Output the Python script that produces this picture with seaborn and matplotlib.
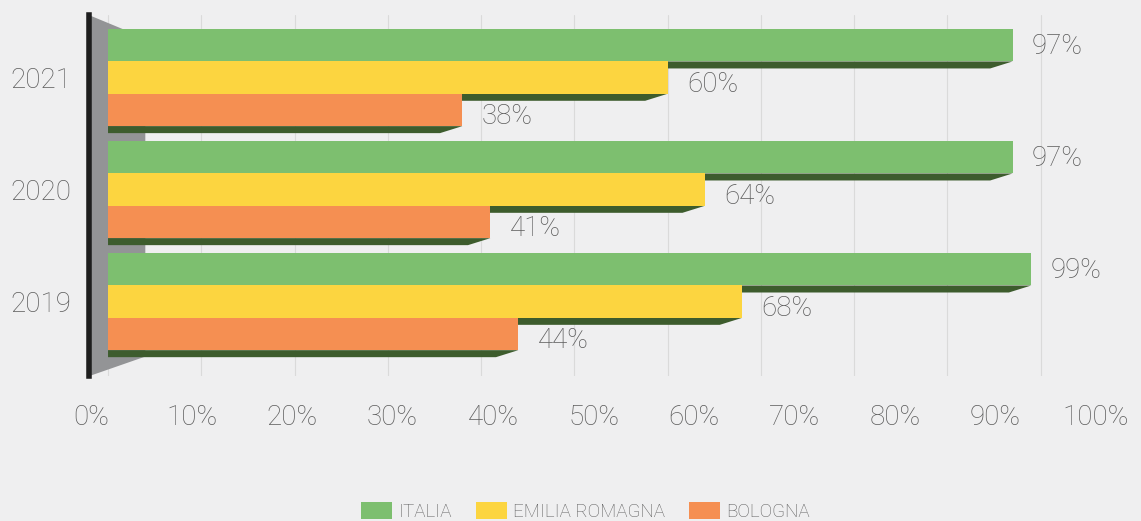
import pandas as pd
import seaborn as sns
from matplotlib import pyplot as plt
from matplotlib.patches import Polygon

# data
anni = ["2021", "2020", "2019"]
italia = [97, 97, 99]
emilia_romagna = [60, 64, 68]
bologna = [38, 41, 44]
aree = ["ITALIA", "EMILIA ROMAGNA", "BOLOGNA"]
colori = ["#7dbf6f", "#fcd540", "#f58f52"]
ticks = [0, 10, 20, 30, 40, 50, 60, 70, 80, 90, 100]

df = pd.DataFrame({
    "anno": anni * 3,
    "valore": italia + emilia_romagna + bologna,
    "area": [aree[0]] * 3 + [aree[1]] * 3 + [aree[2]] * 3,
})

sns.set_theme(style="white")
plt.rcParams["font.family"] = ["Roboto", "DejaVu Sans"]
testo = "#5c5c5c"
sfondo = "#efeff0"
peso = "light"

fig = plt.figure(figsize=(11.41, 5.21), dpi=100, facecolor=sfondo)
ax = fig.add_axes([0.078, 0.278, 0.883, 0.693])
ax.set_facecolor(sfondo)

sns.barplot(data=df, y="anno", x="valore", hue="area", orient="h",
            order=anni, hue_order=aree, palette=colori, saturation=1,
            width=0.866, gap=0, linewidth=0, ax=ax, zorder=3)

# dark bottom face under every bar (3d look)
d = 0.0625
s = 2.4
for cont in ax.containers:
    for p in cont:
        y0 = p.get_y() + p.get_height()
        w = p.get_width()
        ax.add_patch(Polygon([(0, y0), (w, y0), (w - s, y0 + d), (0, y0 + d)],
                             closed=True, facecolor="#3d5c2d", edgecolor="none", zorder=2))

# value labels
for i, cont in enumerate(ax.containers):
    txts = ax.bar_label(cont, labels=[f"{int(v)}%" for v in cont.datavalues],
                        padding=14, fontsize=20, color=testo, fontweight=peso)
    for t in txts:
        t.xyann = (14, -1 if i == 0 else -5)

ax.set_xlim(-2.04, 106)
ax.set_ylim(2.665, -0.558)

# grey side wall
ax.add_patch(Polygon([(-2.04, -0.558), (4, -0.35), (4, 2.49), (-2.04, 2.665)],
                     closed=True, facecolor="#939496", edgecolor="none", zorder=1))

ax.set_xticks(ticks)
ax.xaxis.grid(True, color="#dadada", linewidth=0.8, zorder=0)
ax.set_axisbelow(True)
ax.tick_params(axis="x", length=0, labelbottom=False)
ax.tick_params(axis="y", length=0, pad=13, labelsize=20, labelcolor=testo)
for lab in ax.get_yticklabels():
    lab.set_fontweight(peso)
ax.set_xlabel("")
ax.set_ylabel("")

# front-plane scale for the percentage labels (perspective)
sec = ax.secondary_xaxis("bottom", functions=(lambda v: (17 + 9.325 * v) / 10.05,
                                              lambda f: (10.05 * f - 17) / 9.325))
sec.set_xticks(ticks)
sec.set_xticklabels([f"{t}%" for t in ticks])
sec.tick_params(axis="x", length=0, pad=20, labelsize=20, labelcolor=testo)
for lab in sec.get_xticklabels():
    lab.set_fontweight(peso)
sec.spines["bottom"].set_visible(False)

for side in ["top", "right", "bottom"]:
    ax.spines[side].set_visible(False)
ax.spines["left"].set_color("#1e1e1e")
ax.spines["left"].set_linewidth(4)

handles, labels = ax.get_legend_handles_labels()
ax.legend_.remove()
leg = fig.legend(handles, labels, loc="lower center", bbox_to_anchor=(0.513, -0.032),
                 ncol=3, frameon=False, fontsize=13.5, labelcolor=testo,
                 handlelength=1.65, handleheight=1.0, columnspacing=1.28, handletextpad=0.32)
for t in leg.get_texts():
    t.set_fontweight(peso)

fig.savefig("out.png", dpi=100, facecolor=sfondo)
